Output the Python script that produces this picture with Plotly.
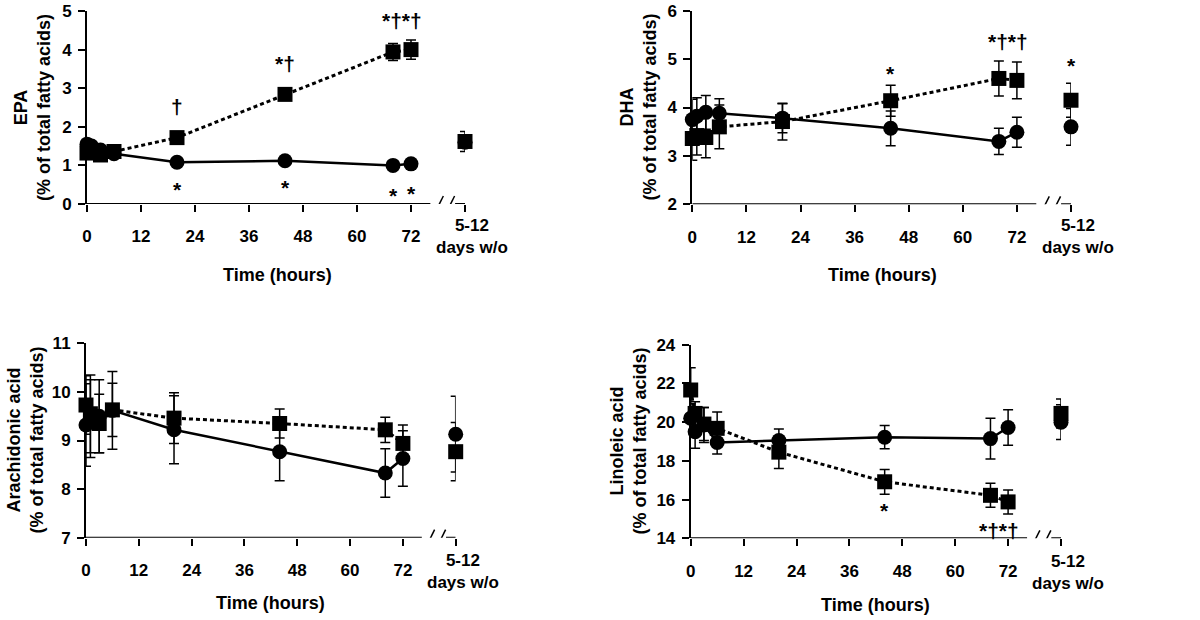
import plotly.graph_objects as go

FONT = "Liberation Sans, Arial, Helvetica, sans-serif"

# ---------------- shared axis data ----------------
times = [0, 1, 3, 6, 20, 44, 68, 72]
washout_x = 84
x_tickvals = [0, 12, 24, 36, 48, 60, 72, 84]
x_ticktext = ["0", "12", "24", "36", "48", "60", "72", ""]
washout_label = "5-12<br>days w/o"
x_title = "Time (hours)"

# ---------------- EPA ----------------
epa_circle = [1.55, 1.50, 1.40, 1.30, 1.08, 1.12, 1.00, 1.04]
epa_circle_err = [0.12, 0.10, 0.10, 0.10, 0.08, 0.08, 0.08, 0.08]
epa_square = [1.32, 1.35, 1.27, 1.36, 1.72, 2.84, 3.94, 4.00]
epa_square_err = [0.12, 0.10, 0.10, 0.10, 0.12, 0.12, 0.22, 0.25]
epa_wo_circle, epa_wo_circle_err = 1.60, 0.10
epa_wo_square, epa_wo_square_err = 1.62, 0.26

# ---------------- DHA ----------------
dha_circle = [3.75, 3.82, 3.90, 3.88, 3.78, 3.57, 3.30, 3.49]
dha_circle_err = [0.42, 0.38, 0.35, 0.30, 0.30, 0.36, 0.27, 0.31]
dha_square = [3.36, 3.42, 3.38, 3.60, 3.71, 4.14, 4.60, 4.56]
dha_square_err = [0.45, 0.40, 0.42, 0.45, 0.38, 0.32, 0.36, 0.38]
dha_wo_circle, dha_wo_circle_err = 3.60, 0.38
dha_wo_square, dha_wo_square_err = 4.15, 0.35

# ---------------- Arachidonic acid ----------------
aa_circle = [9.32, 9.45, 9.50, 9.62, 9.22, 8.77, 8.33, 8.63]
aa_circle_err = [0.85, 0.80, 0.75, 0.80, 0.70, 0.60, 0.50, 0.57]
aa_square = [9.73, 9.55, 9.35, 9.63, 9.46, 9.35, 9.22, 8.94]
aa_square_err = [0.60, 0.80, 0.60, 0.55, 0.52, 0.30, 0.26, 0.38]
aa_wo_circle, aa_wo_circle_err = 9.13, 0.78
aa_wo_square, aa_wo_square_err = 8.77, 0.60

# ---------------- Linoleic acid ----------------
la_circle = [20.20, 19.50, 19.85, 18.95, 19.05, 19.22, 19.15, 19.72]
la_circle_err = [0.75, 0.85, 0.90, 0.60, 0.60, 0.60, 1.05, 0.92]
la_square = [21.66, 20.45, 19.90, 19.68, 18.45, 16.92, 16.22, 15.88]
la_square_err = [1.15, 0.60, 0.85, 0.85, 0.85, 0.64, 0.62, 0.62]
la_wo_circle, la_wo_circle_err = 20.00, 0.90
la_wo_square, la_wo_square_err = 20.45, 0.75

# significance marks: (series, indices, text, pixel shift of text centre)
epa_sig = [("square", [4], "†", 31), ("square", [5], "*†", 31), ("square", [6, 7], "*†*†", 29),
           ("circle", [4], "*", -27), ("circle", [5], "*", -27),
           ("circle", [6], "*", -30), ("circle", [7], "*", -30)]
dha_sig = [("square", [5], "*", 27), ("square", [6, 7], "*†*†", 37),
           ("wo_square", [0], "*", 35)]
aa_sig = []
la_sig = [("square", [5], "*", -29), ("square", [6, 7], "*†*†", -29)]

# Layout positions below are in screen pixels of the reference.
PAGE_OFFSET = 0
panels = [
    dict(name="EPA", c=epa_circle, ce=epa_circle_err, s=epa_square, se=epa_square_err,
         wc=epa_wo_circle, wce=epa_wo_circle_err, ws=epa_wo_square, wse=epa_wo_square_err,
         sig=epa_sig, yrange=[0, 5], dtick=1,
         xpx=(87, 465), ypx=(11, 204),
         ytitle_px=(32.5, 107.5), xtitle_px=(277, 275), wo_shift=-32),
    dict(name="DHA", c=dha_circle, ce=dha_circle_err, s=dha_square, se=dha_square_err,
         wc=dha_wo_circle, wce=dha_wo_circle_err, ws=dha_wo_square, wse=dha_wo_square_err,
         sig=dha_sig, yrange=[2, 6], dtick=1,
         xpx=(692.3, 1071), ypx=(10.7, 204.3),
         ytitle_px=(638, 107.5), xtitle_px=(882, 275), wo_shift=-32),
    dict(name="Arachidonic acid", c=aa_circle, ce=aa_circle_err, s=aa_square, se=aa_square_err,
         wc=aa_wo_circle, wce=aa_wo_circle_err, ws=aa_wo_square, wse=aa_wo_square_err,
         sig=aa_sig, yrange=[7, 11], dtick=1,
         xpx=(86, 455.7), ypx=(343.3, 537.7),
         ytitle_px=(25, 440.5), xtitle_px=(270, 603), wo_shift=-34),
    dict(name="Linoleic acid", c=la_circle, ce=la_circle_err, s=la_square, se=la_square_err,
         wc=la_wo_circle, wce=la_wo_circle_err, ws=la_wo_square, wse=la_wo_square_err,
         sig=la_sig, yrange=[14, 24], dtick=2,
         xpx=(690.7, 1061), ypx=(344.7, 538.3),
         ytitle_px=(627.5, 441), xtitle_px=(875, 605), wo_shift=-34),
]

W, H = 1200, 620
BLACK = "#000000"
TICK_SIZE = 17
TITLE_SIZE = 18


def px_x(px):
    return (px - PAGE_OFFSET) / W


def px_y(py):
    return 1 - (py - PAGE_OFFSET) / H


fig = go.Figure()
shapes = []
annotations = []


def err(arr):
    return dict(type="data", array=arr, visible=True, color=BLACK, thickness=1.5, width=5)


for i, p in enumerate(panels):
    n = "" if i == 0 else str(i + 1)
    xa, ya = "x" + n, "y" + n
    ymin = p["yrange"][0]

    # circle group (solid line)
    fig.add_trace(go.Scatter(
        x=times, y=p["c"], xaxis=xa, yaxis=ya, mode="lines+markers",
        line=dict(color=BLACK, width=2.5),
        marker=dict(symbol="circle", size=15, color=BLACK),
        error_y=err(p["ce"]), cliponaxis=False, showlegend=False))
    fig.add_trace(go.Scatter(
        x=[washout_x], y=[p["wc"]], xaxis=xa, yaxis=ya, mode="markers",
        marker=dict(symbol="circle", size=15, color=BLACK),
        error_y=err([p["wce"]]), cliponaxis=False, showlegend=False))
    # square group (dotted line)
    fig.add_trace(go.Scatter(
        x=times, y=p["s"], xaxis=xa, yaxis=ya, mode="lines+markers",
        line=dict(color=BLACK, width=3, dash="4px,3px"),
        marker=dict(symbol="square", size=15, color=BLACK),
        error_y=err(p["se"]), cliponaxis=False, showlegend=False))
    fig.add_trace(go.Scatter(
        x=[washout_x], y=[p["ws"]], xaxis=xa, yaxis=ya, mode="markers",
        marker=dict(symbol="square", size=15, color=BLACK),
        error_y=err([p["wse"]]), cliponaxis=False, showlegend=False))

    x0p, x1p = p["xpx"]
    y0p, y1p = p["ypx"]
    fig.layout["xaxis" + n] = dict(
        domain=[px_x(x0p), px_x(x1p)], anchor=ya, range=[0, washout_x], tickvals=x_tickvals,
        ticktext=x_ticktext, ticks="outside", ticklen=7, tickwidth=1.5, tickcolor=BLACK,
        showline=False, showgrid=False, zeroline=False, ticklabelstandoff=10,
        automargin=False, ticklabeloverflow="allow",
        tickfont=dict(family=FONT, size=TICK_SIZE, color=BLACK, weight="bold"))
    fig.layout["yaxis" + n] = dict(
        domain=[px_y(y1p), px_y(y0p)], anchor=xa, range=p["yrange"], dtick=p["dtick"],
        ticks="outside", ticklen=7, tickwidth=1.5, tickcolor=BLACK,
        showline=True, linewidth=2, linecolor=BLACK, showgrid=False, zeroline=False,
        ticklabelstandoff=3, automargin=False, ticklabeloverflow="allow",
        tickfont=dict(family=FONT, size=TICK_SIZE, color=BLACK, weight="bold"))

    # broken x axis line
    line = dict(color=BLACK, width=2)
    shapes.append(dict(type="line", xref=xa, yref=ya, x0=0, x1=76.3, y0=ymin, y1=ymin, line=line))
    shapes.append(dict(type="line", xref=xa, yref=ya, x0=81.8, x1=washout_x, y0=ymin, y1=ymin, line=line))
    for cx in (78.3, 80.8):
        shapes.append(dict(type="line", xref=xa, yref=ya, xsizemode="pixel", xanchor=cx,
                           x0=-4, x1=4, ysizemode="pixel", yanchor=ymin, y0=-8, y1=8,
                           line=dict(color=BLACK, width=1.5)))

    # washout tick label
    annotations.append(dict(
        text=washout_label, xref=xa, yref=ya + " domain", x=washout_x, y=0,
        xshift=7, yshift=p["wo_shift"], showarrow=False, xanchor="center", yanchor="middle",
        font=dict(family=FONT, size=TICK_SIZE, color=BLACK, weight="bold")))

    # axis titles
    tx, ty = p["xtitle_px"]
    annotations.append(dict(
        text=x_title, xref="paper", yref="paper", x=px_x(tx), y=px_y(ty),
        showarrow=False, xanchor="center", yanchor="middle",
        font=dict(family=FONT, size=TITLE_SIZE, color=BLACK, weight="bold")))
    yx, yy = p["ytitle_px"]
    annotations.append(dict(
        text=p["name"] + "<br>(% of total fatty acids)", xref="paper", yref="paper",
        x=px_x(yx), y=px_y(yy), textangle=-90, showarrow=False,
        xanchor="center", yanchor="middle",
        font=dict(family=FONT, size=TITLE_SIZE, color=BLACK, weight="bold")))

    # significance marks
    for series, idx, txt, shift in p["sig"]:
        if series == "circle":
            xs, ys = [times[k] for k in idx], [p["c"][k] for k in idx]
        elif series == "square":
            xs, ys = [times[k] for k in idx], [p["s"][k] for k in idx]
        else:
            xs, ys = [washout_x], [p["ws"]]
        xv = sum(xs) / len(xs)
        yv = max(ys) if shift > 0 else min(ys)
        annotations.append(dict(
            text=txt, xref=xa, yref=ya, x=xv, y=yv, yshift=shift, showarrow=False,
            xanchor="center", yanchor="middle",
            font=dict(family=FONT, size=21, color=BLACK, weight="bold")))

fig.update_layout(
    width=W, height=H, margin=dict(l=0, r=0, t=0, b=0, autoexpand=False),
    paper_bgcolor="white", plot_bgcolor="white",
    shapes=shapes, annotations=annotations, showlegend=False,
    font=dict(family=FONT, color=BLACK))

# remove the browser's default 8px page margin so the figure fills the window
fig.write_html("out.html", config={"displayModeBar": False},
               post_script="document.body.style.margin='0';")
